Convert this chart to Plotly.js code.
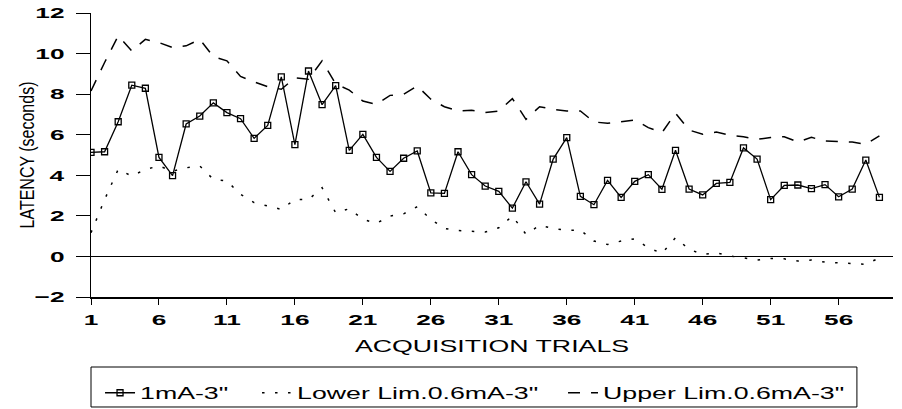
<!DOCTYPE html>
<html><head><meta charset="utf-8">
<script src="https://cdn.plot.ly/plotly-3.0.1.min.js"></script>
<style>html,body{margin:0;padding:0;background:#fff}#chart{width:902px;height:409px}</style>
</head><body><div id="chart"></div>
<script>
// ---- data ----
const trials = [1,2,3,4,5,6,7,8,9,10,11,12,13,14,15,16,17,18,19,20,21,22,23,24,25,26,27,28,29,30,
  31,32,33,34,35,36,37,38,39,40,41,42,43,44,45,46,47,48,49,50,51,52,53,54,55,56,57,58,59];
const latency1mA = [5.13,5.16,6.64,8.44,8.29,4.88,3.98,6.53,6.92,7.57,
  7.09,6.79,5.82,6.46,8.85,5.51,9.14,7.48,8.42,5.23,
  6.02,4.88,4.19,4.84,5.20,3.13,3.11,5.16,4.03,3.47,
  3.21,2.38,3.68,2.58,4.80,5.86,2.96,2.55,3.75,2.91,
  3.70,4.03,3.31,5.23,3.32,3.03,3.60,3.65,5.35,4.80,
  2.80,3.50,3.52,3.34,3.54,2.94,3.32,4.75,2.91];
const lowerLim = [1.17,2.80,4.29,3.96,4.29,4.46,4.20,4.37,4.46,3.80,
  3.72,3.06,2.65,2.48,2.32,2.81,2.80,3.39,2.15,2.35,
  1.83,1.63,1.99,2.10,2.45,1.83,1.38,1.28,1.25,1.20,
  1.41,1.99,1.09,1.53,1.38,1.28,1.30,0.76,0.59,0.76,
  0.87,0.43,0.15,0.92,0.35,0.10,0.18,0.02,-0.07,-0.18,
  -0.10,-0.12,-0.23,-0.18,-0.28,-0.31,-0.35,-0.39,-0.07];
const upperLim = [8.16,9.56,10.87,10.13,10.70,10.54,10.30,10.38,10.70,9.85,
  9.64,8.87,8.60,8.37,8.24,8.80,8.73,9.64,8.50,8.20,
  7.66,7.50,7.94,7.99,8.40,7.75,7.38,7.17,7.20,7.09,
  7.17,7.78,6.76,7.38,7.25,7.17,7.17,6.63,6.56,6.66,
  6.73,6.35,6.10,7.06,6.23,6.02,6.13,5.97,5.90,5.77,
  5.86,5.90,5.64,5.87,5.69,5.66,5.64,5.53,5.94];
const xTickVals = [1,6,11,16,21,26,31,36,41,46,51,56];
const yTickVals = [-2,0,2,4,6,8,10,12];
const seriesNames = ['1mA-3"', 'Lower Lim.0.6mA-3"', 'Upper Lim.0.6mA-3"'];
const xTitle = 'ACQUISITION TRIALS';
const yTitle = 'LATENCY (seconds)';

const FONT = '"Liberation Sans", Arial, Helvetica, sans-serif';

const traces = [
  {x: trials, y: latency1mA, name: seriesNames[0], mode: 'lines+markers',
   line: {color: '#000', width: 1.3},
   marker: {symbol: 'square-open', size: 6, color: '#000', line: {width: 1.3, color: '#000'}},
   legendwidth: 112},
  {x: trials, y: lowerLim, name: seriesNames[1], mode: 'lines',
   line: {color: '#000', width: 1.5, dash: '2.5px,10.5px'}, legendwidth: 261},
  {x: trials, y: upperLim, name: seriesNames[2], mode: 'lines',
   line: {color: '#000', width: 1.5, dash: '12px,11px'}, legendwidth: 250}
];

const layout = {
  width: 902, height: 409,
  margin: {l: 91, r: 9, t: 13, b: 112},
  paper_bgcolor: '#fff', plot_bgcolor: '#fff',
  font: {family: FONT, color: '#000'},
  showlegend: true,
  legend: {orientation: 'h', xref: 'container', yref: 'container',
           x: 0.1109, xanchor: 'left', y: 0.039, yanchor: 'middle',
           borderwidth: 0, bgcolor: 'rgba(0,0,0,0)', font: {size: 16.5, family: FONT}},
  xaxis: {range: [1, 60], tickvals: xTickVals, ticks: 'outside', ticklen: 6, tickwidth: 1,
          tickcolor: '#000', showline: true, linecolor: '#000', linewidth: 1.5,
          showgrid: false, zeroline: false, ticklabelstandoff: 3,
          tickfont: {size: 15, weight: 'bold', family: FONT},
          title: {text: xTitle, font: {size: 16.5, family: FONT}, standoff: 13}},
  xaxis2: {overlaying: 'x', anchor: 'y', range: [1, 60], tickvals: xTickVals, ticks: 'inside',
           ticklen: 4, tickwidth: 1, tickcolor: '#000', showticklabels: false,
           showline: false, showgrid: false, zeroline: false},
  yaxis: {range: [-2, 12], tickvals: yTickVals, ticks: 'outside', ticklen: 14, tickwidth: 1,
          tickcolor: '#000', showline: true, linecolor: '#000', linewidth: 1.5,
          showgrid: false, zeroline: true, zerolinecolor: '#000', zerolinewidth: 1.3,
          ticklabelstandoff: 8,
          tickfont: {size: 15, weight: 'bold', family: FONT},
          title: {text: yTitle, font: {size: 16, family: FONT}, standoff: 8}},
  yaxis2: {overlaying: 'y', anchor: 'x', range: [-2, 12], tickvals: yTickVals, ticks: 'inside',
           ticklen: 17, tickwidth: 1, tickcolor: '#000', showticklabels: false,
           showline: false, showgrid: false, zeroline: false},
  shapes: [{type: 'rect', xref: 'paper', yref: 'paper', x0: 0, x1: 0.955, y0: -0.3873, y1: -0.2465,
            line: {color: '#000', width: 1}, fillcolor: 'rgba(0,0,0,0)'}]
};

// The reference's lettering is horizontally wide; stretch text glyphs around their anchors.
function stretchText(gd) {
  const svgLeft = gd.querySelector('svg.main-svg').getBoundingClientRect().left;
  gd.querySelectorAll('svg.main-svg text').forEach(function (t) {
    if (!t.textContent.trim()) return;
    const cls = t.getAttribute('class') || '';
    const pcls = (t.parentNode && t.parentNode.getAttribute && t.parentNode.getAttribute('class')) || '';
    const bb = t.getBBox();
    const prev = t.getAttribute('transform') || '';
    if (cls.indexOf('ytitle') >= 0) {
      const by = parseFloat(t.getAttribute('y')) || (bb.y + bb.height);
      t.setAttribute('transform', prev + ' translate(0,' + by + ') scale(1,1.3) translate(0,' + (-by) + ')');
      const r = t.getBoundingClientRect();
      const dx = 38 - (r.right - svgLeft);
      t.setAttribute('transform', 'translate(' + dx + ',0) ' + t.getAttribute('transform'));
      return;
    }
    let s = 1.62;
    if (pcls.indexOf('xtick') >= 0 || pcls.indexOf('ytick') >= 0) s = 1.75;
    const anchor = t.getAttribute('text-anchor') || 'start';
    let ax = bb.x;
    if (anchor === 'middle') ax = bb.x + bb.width / 2;
    else if (anchor === 'end') ax = bb.x + bb.width;
    t.setAttribute('transform', prev + ' translate(' + ax + ',0) scale(' + s + ',1) translate(' + (-ax) + ',0)');
  });
}

Plotly.newPlot('chart', traces, layout, {displayModeBar: false, staticPlot: true})
  .then(stretchText);
</script>
</body></html>
